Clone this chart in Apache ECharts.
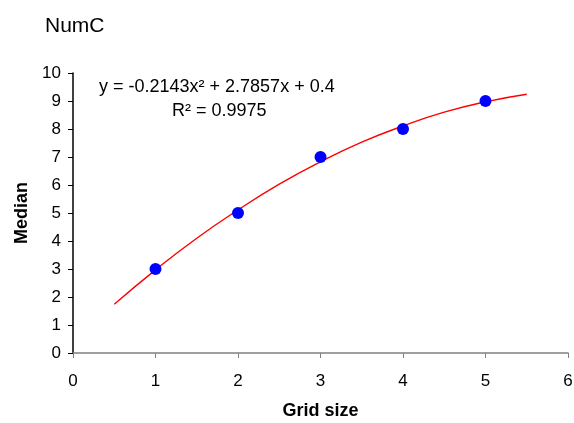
<!DOCTYPE html>
<html>
<head>
<meta charset="utf-8">
<script src="https://cdn.jsdelivr.net/npm/echarts@6/dist/echarts.min.js"></script>
<style>
  html, body { margin: 0; padding: 0; background: #fff; }
  #chart { width: 574px; height: 423px; }
</style>
</head>
<body>
<div id="chart"></div>
<script>
  // measured points
  const gridSize = [1, 2, 3, 4, 5]
  const median = [3, 5, 7, 8, 9]
  // trendline
  const trendX = [0.5, 1, 1.5, 2, 2.5, 3, 3.5, 4, 4.5, 5, 5.5]
  const trendY = [1.74, 2.97, 4.10, 5.11, 6.03, 6.83, 7.53, 8.11, 8.60, 8.97, 9.24]
  const xTicks = [0, 1, 2, 3, 4, 5, 6]
  const yTicks = [0, 1, 2, 3, 4, 5, 6, 7, 8, 9, 10]

  let chart = echarts.init(document.getElementById('chart'))
  let font = 'Liberation Sans, Arial, sans-serif'
  let option = {
    animation: false,
    title: {
      text: 'NumC',
      left: 40, top: 11,
      textStyle: {fontFamily: font, fontSize: 21, fontWeight: 'normal', color: '#000'}
    },
    grid: {left: 73, right: 6, top: 73, bottom: 70, outerBoundsMode: 'none'},
    xAxis: {
      type: 'value',
      min: xTicks[0], max: xTicks[xTicks.length - 1], interval: 1,
      name: 'Grid size', nameLocation: 'middle', nameGap: 49,
      nameTextStyle: {fontFamily: font, fontSize: 18, fontWeight: 'bold', color: '#000'},
      axisLine: {lineStyle: {color: '#808080', width: 1.5}},
      axisTick: {length: 5, lineStyle: {color: '#808080'}},
      axisLabel: {fontFamily: font, fontSize: 17, color: '#000', margin: 20},
      splitLine: {show: false}
    },
    yAxis: {
      type: 'value',
      min: yTicks[0], max: yTicks[yTicks.length - 1], interval: 1,
      name: 'Median', nameLocation: 'middle', nameGap: 42,
      nameTextStyle: {fontFamily: font, fontSize: 18, fontWeight: 'bold', color: '#000'},
      axisLine: {show: true, lineStyle: {color: '#000', width: 1.5}},
      axisTick: {show: true, length: 5, lineStyle: {color: '#000'}},
      axisLabel: {fontFamily: font, fontSize: 17, color: '#000', margin: 12},
      splitLine: {show: false}
    },
    series: [{
      type: 'line',
      data: trendX.map((x, i) => [x, trendY[i]]),
      smooth: true,
      showSymbol: false,
      lineStyle: {color: '#ff0000', width: 1.4},
      z: 1
    }, {
      type: 'scatter',
      data: gridSize.map((x, i) => [x, median[i]]),
      symbolSize: 12,
      itemStyle: {color: '#0000ff', opacity: 1},
      z: 2
    }],
    graphic: [{
      type: 'text', left: 99, top: 78,
      style: {text: 'y = -0.2143x² + 2.7857x + 0.4', font: '18px ' + font, fill: '#000'}
    }, {
      type: 'text', left: 172, top: 102,
      style: {text: 'R² = 0.9975', font: '18px ' + font, fill: '#000'}
    }]
  }
  chart.setOption(option)
</script>
</body>
</html>
